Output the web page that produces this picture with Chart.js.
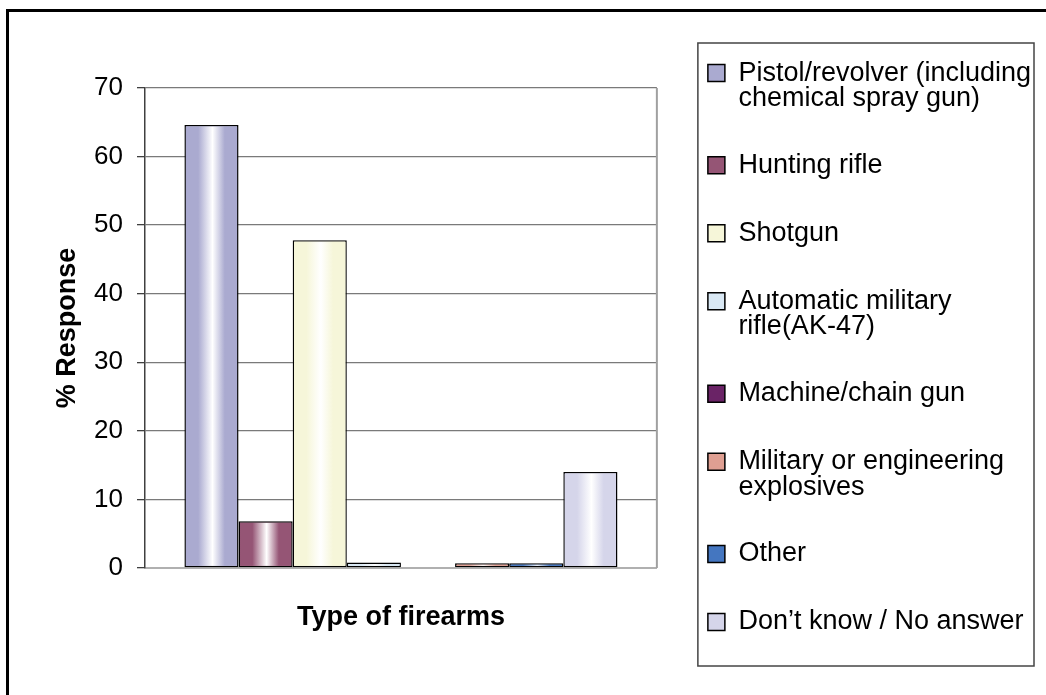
<!DOCTYPE html>
<html>
<head>
<meta charset="utf-8">
<script src="https://cdn.jsdelivr.net/npm/chart.js@4.4.1/dist/chart.umd.min.js"></script>
<style>
  html, body { margin: 0; padding: 0; background: #fff; }
  #wrap { width: 1046px; height: 695px; }
</style>
</head>
<body>
<div id="wrap"><canvas id="firearmsChart"></canvas></div>
<script>
// Data
const categories = [''];
const xTitle = 'Type of firearms';
const yTitle = '% Response';
const seriesNames = [
  ['Pistol/revolver (including', 'chemical spray gun)'],
  'Hunting rifle',
  'Shotgun',
  ['Automatic military', 'rifle(AK-47)'],
  'Machine/chain gun',
  ['Military or engineering', 'explosives'],
  'Other',
  'Don\u2019t know / No answer'
];
const seriesValues = [64.6, 6.8, 47.8, 0.8, 0, 0.7, 0.7, 14.0];
const seriesColors = ['#aaaad0', '#955575', '#f6f6d9', '#d9e8f4', '#6a2366', '#df9f92', '#4476c0', '#d5d5ea'];
const yMin = 0, yMax = 70, yStep = 10;

const fontFamily = '"Liberation Sans", Arial, Helvetica, sans-serif';
const borderW = 1.5;

// shiny "cylinder" look on each bar, drawn inside the bar the library placed
const barShine = {
  id: 'barShine',
  afterDatasetDraw(chart, args) {
    const ctx = chart.ctx;
    const color = chart.data.datasets[args.index].backgroundColor;
    args.meta.data.forEach(bar => {
      const { x, y, base, width } = bar.getProps(['x', 'y', 'base', 'width'], true);
      const left = x - width / 2 + borderW;
      const right = x + width / 2 - borderW;
      const top = Math.min(y, base) + borderW;
      const bottom = Math.max(y, base) - borderW;
      if (bottom - top <= 0) return;
      const g = ctx.createLinearGradient(left, 0, right, 0);
      g.addColorStop(0, color);
      g.addColorStop(0.24, color);
      g.addColorStop(0.52, '#ffffff');
      g.addColorStop(0.76, color);
      g.addColorStop(1, color);
      ctx.save();
      ctx.fillStyle = g;
      ctx.fillRect(left, top, right - left, bottom - top);
      ctx.restore();
    });
  }
};

// plot right edge, legend box and the outer frame
const frames = {
  id: 'frames',
  afterDraw(chart) {
    const ctx = chart.ctx;
    const area = chart.chartArea;
    const lg = chart.legend;
    ctx.save();
    ctx.strokeStyle = '#a0a0a0';
    ctx.lineWidth = 2;
    ctx.beginPath();
    ctx.moveTo(area.right, area.top);
    ctx.lineTo(area.right, area.bottom);
    ctx.stroke();

    ctx.strokeStyle = '#444';
    ctx.lineWidth = 1.5;
    ctx.strokeRect(lg.left + 31, lg.top + 43, lg.right - 7 - (lg.left + 31), lg.bottom - 29 - (lg.top + 43));

    ctx.strokeStyle = '#000';
    ctx.lineWidth = 3;
    ctx.beginPath();
    ctx.moveTo(7.5, chart.height);
    ctx.lineTo(7.5, 10.5);
    ctx.lineTo(chart.width, 10.5);
    ctx.stroke();
    ctx.restore();
  }
};

const datasets = seriesNames.map((name, i) => ({
  label: name,
  data: [seriesValues[i]],
  backgroundColor: seriesColors[i],
  borderColor: '#000',
  borderWidth: borderW,
  borderSkipped: false,
  barPercentage: 1,
  categoryPercentage: 0.846,
  xAxisID: 'x',
  yAxisID: 'y'
}));

new Chart(document.getElementById('firearmsChart'), {
  type: 'bar',
  data: { labels: categories, datasets: datasets },
  plugins: [barShine, frames],
  options: {
    responsive: true,
    maintainAspectRatio: false,
    animation: false,
    layout: { padding: { left: 0, top: 0, bottom: 0, right: 5 } },
    plugins: {
      tooltip: { enabled: false },
      legend: {
        position: 'right',
        maxWidth: 420,
        labels: {
          color: '#000',
          boxWidth: 17,
          boxHeight: 17,
          padding: 41,
          font: { family: fontFamily, size: 27, lineHeight: 0.95 }
        }
      }
    },
    scales: {
      x: {
        ticks: { display: false },
        grid: { display: false },
        border: { color: '#b0b0b0', width: 2 },
        title: {
          display: true,
          text: xTitle,
          color: '#000',
          font: { family: fontFamily, size: 27, weight: 'bold' },
          padding: { top: 0, bottom: 61 }
        },
        afterFit: s => { s.height = 127; }
      },
      y: {
        min: yMin,
        max: yMax,
        ticks: {
          stepSize: yStep,
          color: '#000',
          padding: 14,
          font: { family: fontFamily, size: 26 }
        },
        grid: {
          color: c => (c.tick && c.tick.value === 0 ? '#b0b0b0' : '#7a7a7a'),
          lineWidth: 1.3,
          tickLength: 8,
          tickColor: '#404040'
        },
        border: { color: '#404040', width: 1.5 },
        title: {
          display: true,
          text: yTitle,
          color: '#000',
          font: { family: fontFamily, size: 27, weight: 'bold' },
          padding: { top: 51, bottom: 0 }
        },
        afterFit: s => { s.width = 145; }
      },
      padTop: {
        type: 'linear',
        position: 'top',
        display: true,
        ticks: { display: false },
        grid: { display: false },
        border: { display: false },
        afterFit: s => { s.height = 88; }
      },
      padRight: {
        type: 'linear',
        position: 'right',
        display: true,
        ticks: { display: false },
        grid: { display: false },
        border: { display: false },
        afterFit: s => { s.width = 10; }
      }
    }
  }
});
</script>
</body>
</html>
